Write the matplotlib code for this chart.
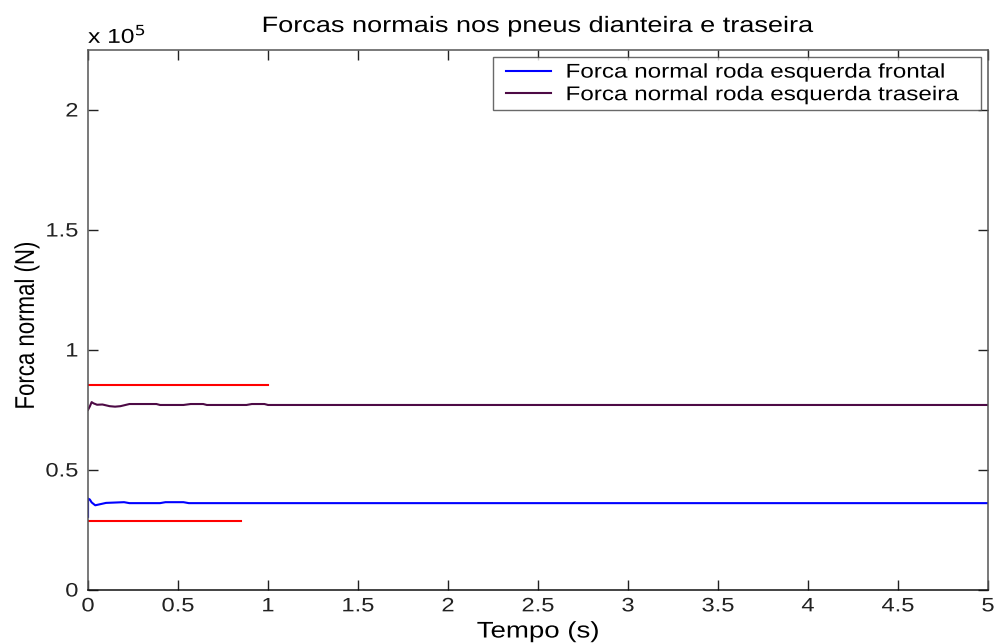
import matplotlib.pyplot as plt
from matplotlib.lines import Line2D
from matplotlib.legend_handler import HandlerLine2D
from matplotlib.patheffects import AbstractPathEffect
from matplotlib.ticker import FuncFormatter, MultipleLocator
from matplotlib.transforms import Affine2D

# normal force on the front-left wheel (N), step-wise samples
t_front = [0.0, 0.0, 0.01, 0.02, 0.04, 0.07, 0.10, 0.20, 0.23, 0.40, 0.43, 0.53, 0.56, 5.0]
f_front = [30500, 38100, 37700, 36500, 35300, 35800, 36300, 36600, 36200, 36200, 36600, 36600, 36200, 36200]

# normal force on the rear-left wheel (N)
t_rear = [0.0, 0.01, 0.02, 0.03, 0.05, 0.08, 0.12, 0.15, 0.18, 0.23, 0.38, 0.40, 0.53, 0.57,
          0.64, 0.66, 0.88, 0.91, 0.98, 1.00, 5.0]
f_rear = [75100, 76500, 78300, 77800, 77200, 77300, 76600, 76400, 76600, 77500, 77500, 77100,
          77100, 77500, 77500, 77100, 77100, 77500, 77500, 77100, 77100]

# reference limits drawn in red
upper_limit = 85500
upper_end = 1.0
lower_limit = 28800
lower_end = 0.85

STRETCH = 1.22


class Widen(AbstractPathEffect):
    """Draw text glyphs wider than the font gives them, keeping the pivot fixed."""

    def __init__(self, factor=STRETCH, pivot='center', vertical=False):
        super().__init__()
        self.factor = factor
        self.pivot = pivot
        self.vertical = vertical

    def draw_path(self, renderer, gc, tpath, affine, rgbFace=None):
        x0, y0, x1, y1 = tpath.get_extents().extents
        if self.vertical:
            c = (y0 + y1) / 2
            t = Affine2D().translate(0, -c).scale(1, self.factor).translate(0, c)
        else:
            c = {'left': 0.0, 'center': (x0 + x1) / 2, 'right': x1}[self.pivot]
            t = Affine2D().translate(-c, 0).scale(self.factor, 1).translate(c, 0)
        renderer.draw_path(gc, tpath, t + affine, rgbFace)


plt.rcParams['font.family'] = ['Liberation Sans', 'DejaVu Sans']
fig = plt.figure(figsize=(9.97, 6.43), dpi=100)
ax = fig.add_axes([0.0883, 0.0824, 0.9027, 0.8398])

ax.plot(t_front, f_front, color='#0000ff', lw=1.5, label='Forca normal roda esquerda frontal')
ax.plot(t_rear, f_rear, color='#4d0a45', lw=1.5, label='Forca normal roda esquerda traseira')
ax.plot([0, upper_end], [upper_limit, upper_limit], color='#ff0000', lw=1.5)
ax.plot([0, lower_end], [lower_limit, lower_limit], color='#ff0000', lw=1.5)

ax.set_xlim(0, 5)
ax.set_ylim(0, 225000)
ax.xaxis.set_major_locator(MultipleLocator(0.5))
ax.yaxis.set_major_locator(MultipleLocator(50000))
ax.xaxis.set_major_formatter(FuncFormatter(lambda v, p: '%g' % v))
ax.yaxis.set_major_formatter(FuncFormatter(lambda v, p: '%g' % (v / 1e5)))
ax.tick_params(direction='in', length=7, width=1, top=True, right=True,
               labelsize=14, colors='#222222')
ax.tick_params(axis='x', pad=6)
ax.tick_params(axis='y', pad=7)
for s in ax.spines.values():
    s.set_color('#555555')
    s.set_linewidth(1.1)
ax.spines['bottom'].set_color('#111111')

title = ax.set_title('Forcas normais nos pneus dianteira e traseira', fontsize=16, pad=13)
xlab = ax.set_xlabel('Tempo (s)', fontsize=16.3, labelpad=3)
ylab = ax.set_ylabel('Forca normal (N)', fontsize=16)
ax.yaxis.set_label_coords(-0.056, 0.49)
mult = ax.text(0.0, 1.013, 'x 10$^5$', transform=ax.transAxes, fontsize=14.5,
               ha='left', va='baseline')

leg = ax.legend(loc='upper left', bbox_to_anchor=(0.45, 0.885, 0.5422, 0.102), mode='expand',
                fontsize=14.3, frameon=True, fancybox=False, borderpad=0.28,
                handlelength=2.65, handletextpad=0.72, labelspacing=0.18, borderaxespad=0,
                handler_map={Line2D: HandlerLine2D(xpad=0.35)})
leg.get_frame().set_edgecolor('#444444')
leg.get_frame().set_linewidth(1.0)

# widen every piece of text to the proportions of the original export
fig.canvas.draw()
for lbl in ax.get_xticklabels():
    lbl.set_path_effects([Widen(pivot='center')])
for lbl in ax.get_yticklabels():
    lbl.set_path_effects([Widen(pivot='right')])
for txt in leg.get_texts():
    txt.set_path_effects([Widen(pivot='left')])
title.set_path_effects([Widen(pivot='center')])
xlab.set_path_effects([Widen(pivot='center')])
ylab.set_path_effects([Widen(vertical=True)])
mult.set_path_effects([Widen(pivot='left')])

fig.savefig('out.png', dpi=100)
